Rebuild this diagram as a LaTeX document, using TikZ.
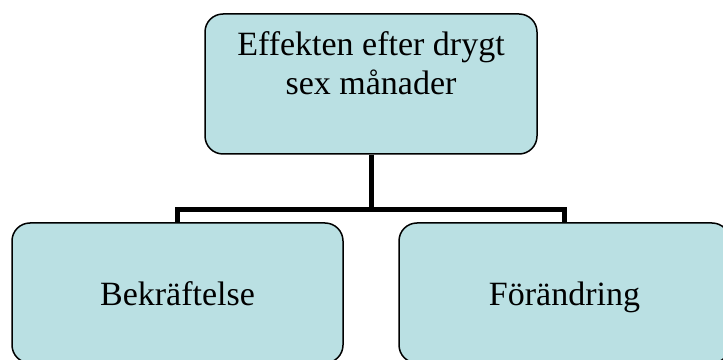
\documentclass[tikz,border=0pt]{standalone}
\usepackage{fontspec}
\setmainfont{Liberation Serif}
\usepackage{tikz}
\usetikzlibrary{calc}

\definecolor{boxfill}{RGB}{186,224,227}

\begin{document}
\begin{tikzpicture}
		[x=1pt, y=1pt,
		font=\fontsize{34}{39}\selectfont
		]
		
		% Three styles: the boxes, the lower boxes and the thick connector
		\tikzstyle{level box}=[draw=black, line width=1.5pt, fill=boxfill, rounded corners=18pt,
			minimum width=331pt, minimum height=140pt, inner sep=0pt, align=center];
		\tikzstyle{leaf box}=[level box, text height=30pt, text depth=6pt];
		\tikzstyle{connector}=[draw=black, line width=5pt];
		
		% Canvas, the lower boxes run past its edges
		\path[use as bounding box, clip] (0,0) rectangle (723,359);
		
		% The top box
		\node(top)[level box, minimum width=332pt] at (371,275)
			{\parbox[c][104pt][t]{320pt}{\centering Effekten efter drygt\\sex månader}};
		
		% The two lower boxes
		\node(left)[leaf box] at (177.5,66){Bekräftelse};
		\node(right)[leaf box] at (564.5,66){Förändring};
		
		% Connectors
		\coordinate(fork) at (371,149);
		\draw[connector](top.south)--(fork);
		\draw[connector](left.north)|-(fork)-|(right.north);
		\end{tikzpicture}
\end{document}
